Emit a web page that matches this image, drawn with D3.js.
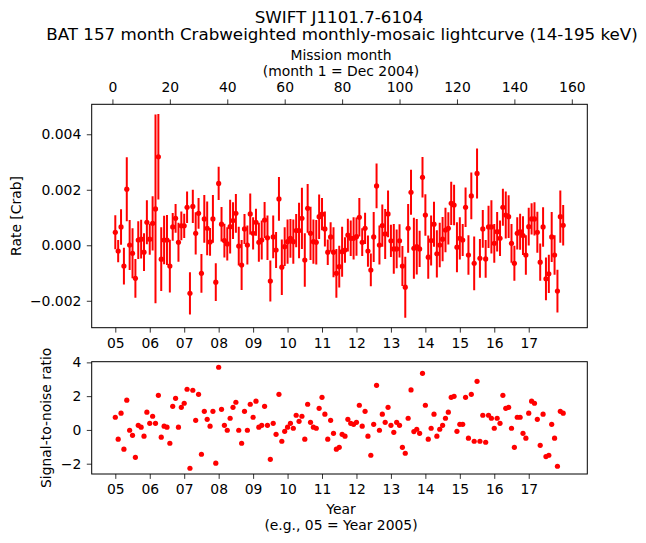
<!DOCTYPE html>
<html><head><meta charset="utf-8">
<script src="https://cdn.jsdelivr.net/npm/d3@7"></script>
<style>
body{margin:0;background:#fff}
text{font-family:"DejaVu Sans",sans-serif;fill:#000}
</style>
</head><body>
<svg id="c" width="646" height="543"></svg>
<script>
// Mission months 1..157 (month 1 = Dec 2004)
const months = d3.range(1, 158);
const rate = [
 0.00047,-0.00021,0.00066,-0.00075,0.00202,0.00001,-0.00029,-0.00119,0.00019,0.00022,
 -0.00025,0.00083,0.00022,0.00079,0.00131,0.00319,-0.00050,0.00019,0.00019,-0.00075,
 0.00066,0.00097,0.00011,0.00070,0.00070,0.00137,-0.00173,0.00140,0.00043,0.00115,
 -0.00101,0.00095,0.00061,0.00012,0.00095,-0.00133,0.00223,0.00076,0.00017,0.00005,
 0.00067,0.00089,0.00115,-0.00003,-0.00071,0.00059,0.00001,0.00113,0.00043,0.00083,
 0.00011,0.00019,0.00091,0.00027,-0.00129,0.00030,-0.00017,0.00167,-0.00079,-0.00005,
 0.00013,0.00025,0.00013,0.00053,0.00053,0.00097,-0.00053,0.00133,0.00043,0.00013,
 0.00011,0.00103,0.00112,0.00059,-0.00025,0.00030,-0.00025,-0.00101,-0.00077,-0.00023,
 -0.00017,0.00037,0.00025,0.00025,0.00031,0.00101,0.00011,0.00061,-0.00021,-0.00089,
 0.00030,0.00214,0.00001,0.00071,0.00041,0.00113,0.00016,-0.00013,-0.00013,0.00016,
 -0.00075,-0.00151,0.00061,0.00191,-0.00011,-0.00005,-0.00013,0.00245,0.00109,-0.00043,
 0.00017,0.00076,-0.00031,0.00001,0.00022,0.00055,0.00061,0.00151,0.00145,-0.00007,
 0.00025,0.00019,0.00137,-0.00035,0.00178,-0.00065,0.00259,-0.00047,0.00059,-0.00049,
 0.00066,0.00066,0.00007,0.00049,0.00025,0.00137,0.00109,0.00103,0.00007,-0.00065,
 0.00043,0.00049,0.00035,-0.00035,0.00067,0.00095,0.00095,0.00047,-0.00061,0.00066,
 -0.00121,-0.00103,0.00030,-0.00035,-0.00165,0.00103,0.00072
];
const rateErr = [
 0.00061,0.00040,0.00064,0.00066,0.00115,0.00090,0.00090,0.00070,0.00068,0.00070,
 0.00068,0.00079,0.00056,0.00098,0.00340,0.00154,0.00115,0.00087,0.00090,0.00095,
 0.00050,0.00052,0.00070,0.00052,0.00044,0.00057,0.00076,0.00060,0.00076,0.00055,
 0.00070,0.00086,0.00097,0.00050,0.00086,0.00068,0.00060,0.00062,0.00061,0.00060,
 0.00097,0.00066,0.00070,0.00070,0.00090,0.00054,0.00070,0.00074,0.00058,0.00049,
 0.00070,0.00070,0.00065,0.00080,0.00074,0.00077,0.00065,0.00079,0.00100,0.00070,
 0.00080,0.00070,0.00080,0.00060,0.00100,0.00110,0.00096,0.00088,0.00096,0.00080,
 0.00080,0.00080,0.00058,0.00063,0.00046,0.00053,0.00090,0.00088,0.00075,0.00090,
 0.00046,0.00059,0.00064,0.00076,0.00069,0.00069,0.00050,0.00056,0.00056,0.00059,
 0.00090,0.00081,0.00070,0.00076,0.00090,0.00084,0.00058,0.00090,0.00070,0.00060,
 0.00072,0.00110,0.00088,0.00081,0.00110,0.00100,0.00065,0.00073,0.00075,0.00078,
 0.00090,0.00081,0.00085,0.00080,0.00080,0.00080,0.00058,0.00078,0.00073,0.00090,
 0.00076,0.00058,0.00071,0.00071,0.00084,0.00097,0.00090,0.00070,0.00068,0.00068,
 0.00076,0.00096,0.00070,0.00071,0.00064,0.00067,0.00085,0.00077,0.00070,0.00063,
 0.00058,0.00065,0.00070,0.00071,0.00068,0.00056,0.00060,0.00074,0.00067,0.00071,
 0.00077,0.00069,0.00090,0.00071,0.00077,0.00094,0.00073
];
const snr = [
 0.75,-0.55,0.99,-1.14,1.76,-0.02,-0.32,-1.62,0.27,0.16,
 -0.37,1.05,0.39,0.81,0.39,2.05,-0.43,0.22,0.16,-0.79,
 1.40,1.87,0.16,1.34,1.58,2.41,-2.27,2.35,0.57,2.11,
 -1.44,1.10,0.63,0.22,1.10,-1.97,3.71,1.22,0.27,-0.02,
 0.69,1.34,1.64,-0.02,-0.79,1.10,-0.02,1.52,0.75,1.70,
 0.16,0.27,1.40,0.27,-1.74,0.39,-0.26,2.11,-0.67,-0.08,
 0.16,0.39,0.10,0.87,0.51,0.81,-0.55,1.52,0.45,0.16,
 0.10,1.28,1.93,0.93,-0.55,0.57,-0.20,-1.14,-1.03,-0.26,
 -0.37,0.63,0.39,0.33,0.45,1.46,0.22,1.10,-0.37,-1.50,
 0.33,2.64,-0.02,0.93,0.45,1.34,0.27,-0.14,0.45,0.27,
 -1.03,-1.38,0.69,2.37,-0.10,0.04,-0.20,3.35,1.46,-0.55,
 0.10,0.93,-0.37,0.04,0.27,0.69,1.05,1.93,1.99,-0.08,
 0.33,0.33,1.93,-0.49,2.11,-0.67,2.88,-0.67,0.87,-0.73,
 0.87,0.69,0.10,0.69,0.39,2.05,1.28,1.34,0.10,-1.03,
 0.75,0.75,-0.20,-0.49,0.99,1.70,1.58,0.63,-0.91,0.93,
 -1.58,-1.50,0.33,-0.49,-2.15,1.10,0.99
];
const yearTicks = [2005,2006,2007,2008,2009,2010,2011,2012,2013,2014,2015,2016,2017];
const yearLabels = ["05","06","07","08","09","10","11","12","13","14","15","16","17"];
const monthTicks = [0,20,40,60,80,100,120,140,160];
const rateTicks = [-0.002,0,0.002,0.004];
const rateTickLabels = ["\u22120.002","0.000","0.002","0.004"];
const snrTicks = [-2,0,2,4];
const snrTickLabels = ["\u22122","0","2","4"];

const monthToYear = m => 2004.9167 + m/12;

const svg = d3.select("#c");
const L = 91.7, R = 587.3;
const T1 = 104.3, B1 = 327.7, T2 = 361.7, B2 = 474;
const FS = 13.9;

const x = d3.scaleLinear().domain([2004.315, 2018.70]).range([L, R]);
const y1 = d3.scaleLinear().domain([-0.00297, 0.00508]).range([B1, T1]);
const y2 = d3.scaleLinear().domain([-2.61, 4.04]).range([B2, T2]);

// Titles
svg.append("text").attr("x", 339).attr("y", 23).attr("text-anchor","middle").attr("font-size",16.7).text("SWIFT J1101.7-6104");
svg.append("text").attr("x", 342).attr("y", 40).attr("text-anchor","middle").attr("font-size",16.7).text("BAT 157 month Crabweighted monthly-mosaic lightcurve (14-195 keV)");

function styleAxis(g){
  g.selectAll(".domain").remove();
  g.selectAll(".tick line").attr("stroke","#000").attr("stroke-width",0.8);
  g.selectAll(".tick text").attr("font-size",FS).attr("font-family","DejaVu Sans");
}

// ---- top panel ----
const gTop = svg.append("g");
gTop.append("g").attr("transform",`translate(0,${B1})`)
  .call(d3.axisBottom(x).tickValues(yearTicks).tickFormat((d,i)=>yearLabels[i]).tickSize(4.9).tickPadding(5.5))
  .call(styleAxis);
gTop.append("g").attr("transform",`translate(0,${T1})`)
  .call(d3.axisTop(x).tickValues(monthTicks.map(monthToYear)).tickFormat((d,i)=>monthTicks[i]).tickSize(4.9).tickPadding(7.5))
  .call(styleAxis);
gTop.append("g").attr("transform",`translate(${L},0)`)
  .call(d3.axisLeft(y1).tickValues(rateTicks).tickFormat((d,i)=>rateTickLabels[i]).tickSize(4.9).tickPadding(5.5))
  .call(styleAxis);

const pts = months.map((m,i)=>({yr: monthToYear(m), r: rate[i], e: rateErr[i], s: snr[i]}));

svg.append("clipPath").attr("id","clipTop").append("rect")
  .attr("x",L).attr("y",T1).attr("width",R-L).attr("height",B1-T1);
const dataTop = gTop.append("g").attr("clip-path","url(#clipTop)");
dataTop.selectAll("line.eb").data(pts).join("line").attr("class","eb")
  .attr("x1",d=>x(d.yr)).attr("x2",d=>x(d.yr))
  .attr("y1",d=>y1(d.r-d.e)).attr("y2",d=>y1(d.r+d.e))
  .attr("stroke","#ff0000").attr("stroke-width",2);
dataTop.selectAll("circle").data(pts).join("circle")
  .attr("cx",d=>x(d.yr)).attr("cy",d=>y1(d.r)).attr("r",2.6).attr("fill","#ff0000");

gTop.append("rect").attr("x",L).attr("y",T1).attr("width",R-L).attr("height",B1-T1)
  .attr("fill","none").attr("stroke","#000").attr("stroke-width",1);

svg.append("text").attr("x",341).attr("y",60).attr("text-anchor","middle").attr("font-size",FS).text("Mission month");
svg.append("text").attr("x",341).attr("y",76).attr("text-anchor","middle").attr("font-size",FS).text("(month 1 = Dec 2004)");
svg.append("text").attr("transform",`translate(21,${(T1+B1)/2}) rotate(-90)`).attr("text-anchor","middle").attr("font-size",FS).text("Rate [Crab]");

// ---- bottom panel ----
const gBot = svg.append("g");
gBot.append("g").attr("transform",`translate(0,${B2})`)
  .call(d3.axisBottom(x).tickValues(yearTicks).tickFormat((d,i)=>yearLabels[i]).tickSize(4.9).tickPadding(5.5))
  .call(styleAxis);
gBot.append("g").attr("transform",`translate(${L},0)`)
  .call(d3.axisLeft(y2).tickValues(snrTicks).tickFormat((d,i)=>snrTickLabels[i]).tickSize(4.9).tickPadding(5.5))
  .call(styleAxis);
gBot.append("g").selectAll("circle").data(pts).join("circle")
  .attr("cx",d=>x(d.yr)).attr("cy",d=>y2(d.s)).attr("r",2.6).attr("fill","#ff0000");
gBot.append("rect").attr("x",L).attr("y",T2).attr("width",R-L).attr("height",B2-T2)
  .attr("fill","none").attr("stroke","#000").attr("stroke-width",1);

svg.append("text").attr("x",341).attr("y",514).attr("text-anchor","middle").attr("font-size",FS).text("Year");
svg.append("text").attr("x",341).attr("y",530).attr("text-anchor","middle").attr("font-size",FS).text("(e.g., 05 = Year 2005)");
svg.append("text").attr("transform",`translate(51,${(T2+B2)/2}) rotate(-90)`).attr("text-anchor","middle").attr("font-size",FS).text("Signal-to-noise ratio");
</script>
</body></html>
